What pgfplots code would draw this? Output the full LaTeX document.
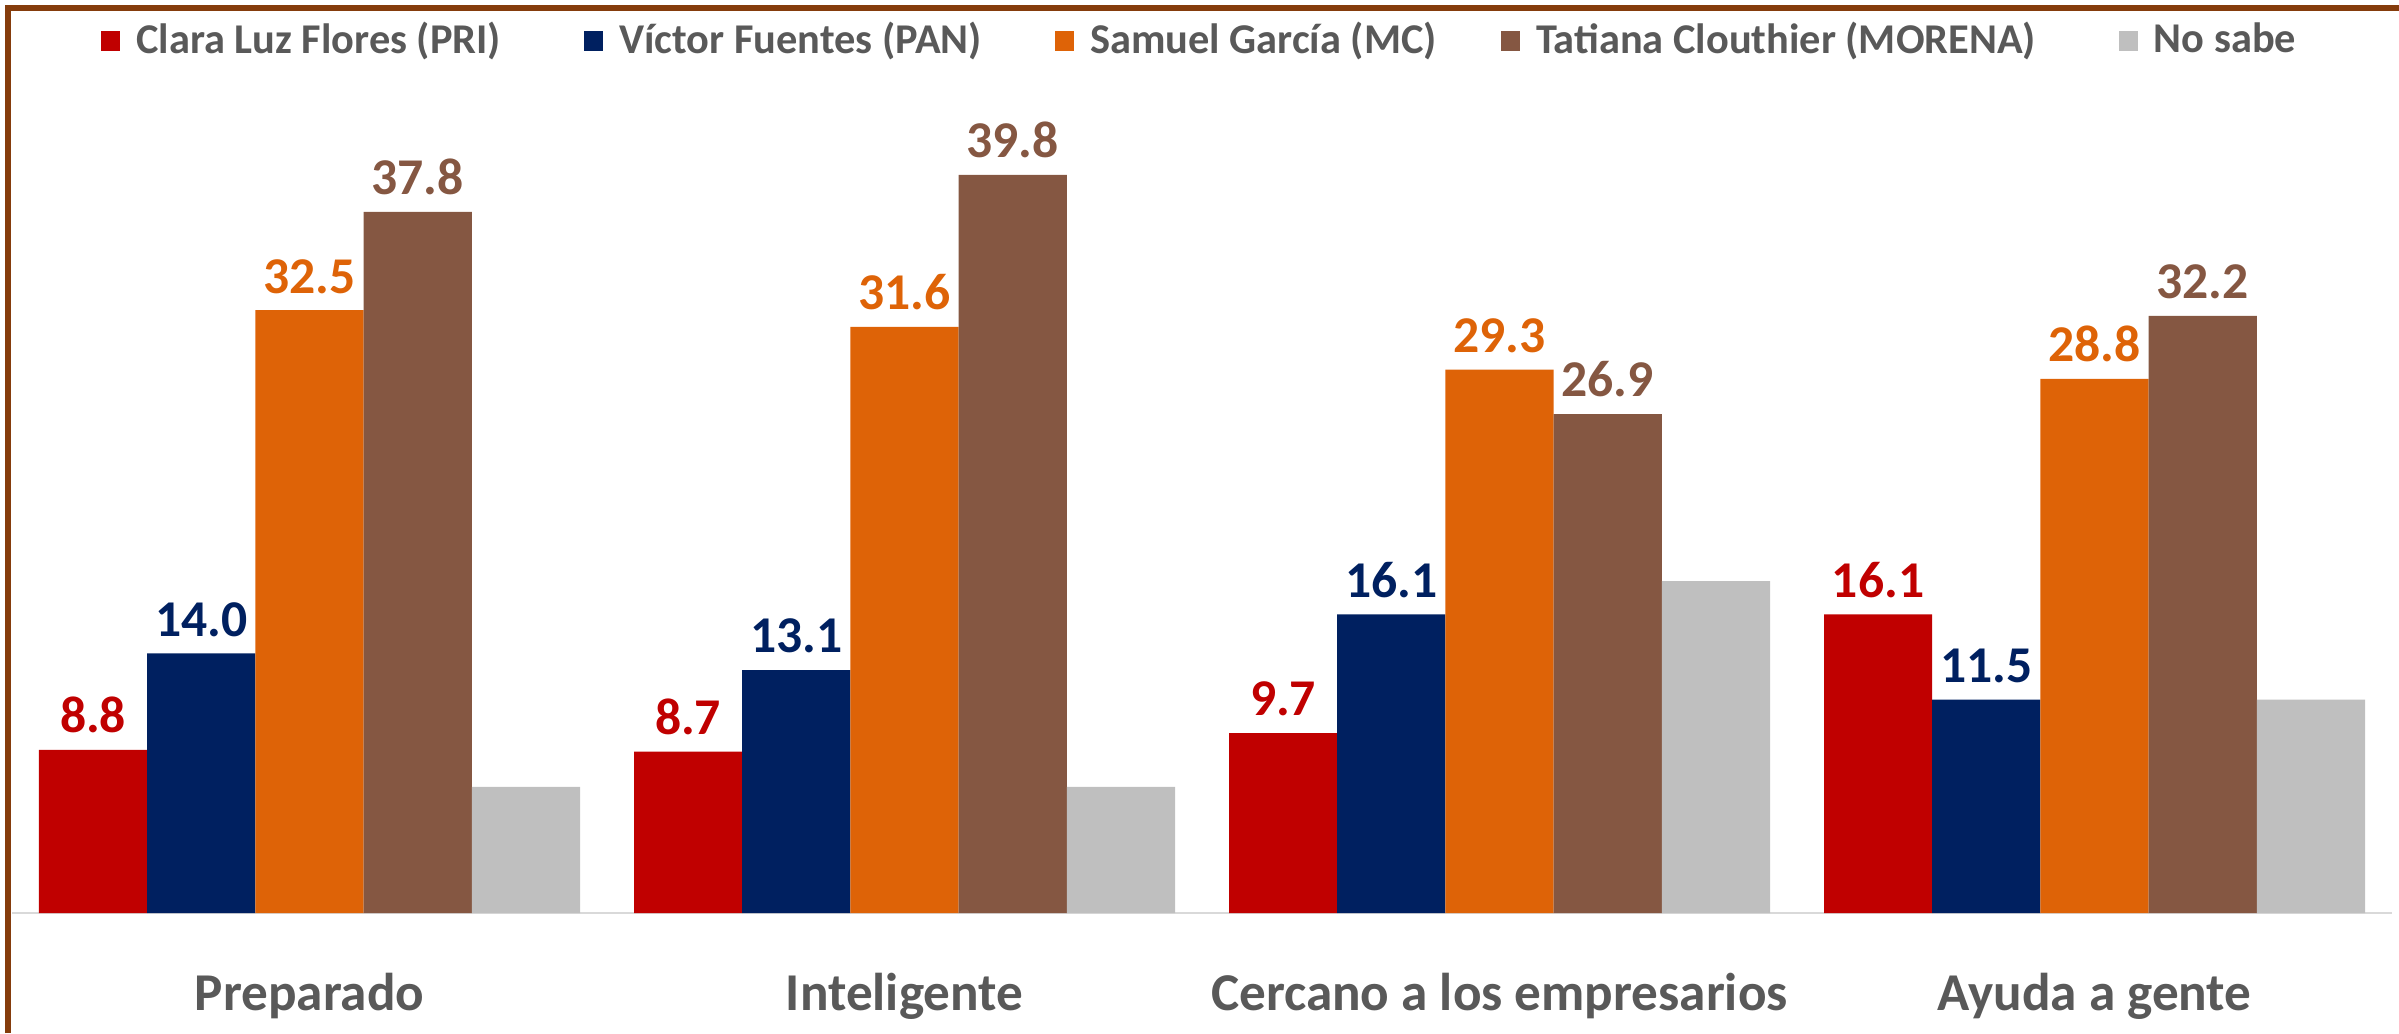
\documentclass[border=0pt]{standalone}
\usepackage{fontspec}
\setmainfont{Carlito}
\usepackage{pgfplots}
\pgfplotsset{compat=1.18}

\definecolor{cpri}{RGB}{192,0,0}
\definecolor{cpan}{RGB}{0,32,96}
\definecolor{cmc}{RGB}{222,99,7}
\definecolor{cmor}{RGB}{133,87,66}
\definecolor{cns}{RGB}{191,191,191}
\definecolor{ctxt}{RGB}{89,89,89}
\definecolor{cframe}{RGB}{133,60,12}
\definecolor{cbase}{RGB}{217,217,217}

\pgfplotsset{
  sq legend/.style={legend image code/.code={\fill[##1] (0pt,-2.4pt) rectangle (4.8pt,2.4pt);}},
}

\begin{document}
\begin{tikzpicture}
\path[use as bounding box] (0,0) rectangle (599.75pt,258.25pt);
\begin{axis}[
  at={(3pt,30pt)}, anchor=south west,
  scale only axis, width=595pt, height=213.3pt,
  ybar=0pt, bar width=27.05pt,
  enlargelimits=false,
  xmin=-0.5, xmax=3.5, ymin=0, ymax=46,
  axis x line=bottom, axis y line=none,
  axis line style={-, draw=cbase, line width=0.5pt},
  xtick={0,1,2,3},
  xticklabels={Preparado, Inteligente, Cercano a los empresarios, Ayuda a gente},
  xtick style={draw=none},
  x tick label style={font=\fontsize{13.3}{15}\selectfont\bfseries, text=ctxt, anchor=base, yshift=-22.25pt},
  /pgf/number format/fixed, /pgf/number format/fixed zerofill,
  /pgf/number format/precision=1, /pgf/number format/assume math mode=true,
  every node near coord/.append style={font=\fontsize{12.9}{14}\selectfont\bfseries, anchor=south, inner sep=0pt, yshift=4pt},
  legend columns=5,
  legend cell align=left,
  legend style={at={(0.0374,1.022)}, anchor=west, draw=none, fill=none,
    inner sep=0pt, outer sep=0pt, nodes={inner sep=0pt},
    font=\fontsize{10.6}{12}\selectfont\bfseries, text=ctxt,
    /tikz/column 1/.style={column sep=4pt},
    /tikz/column 2/.style={column sep=20.75pt},
    /tikz/column 3/.style={column sep=4pt},
    /tikz/column 4/.style={column sep=18.3pt},
    /tikz/column 5/.style={column sep=4pt},
    /tikz/column 6/.style={column sep=16pt},
    /tikz/column 7/.style={column sep=4pt},
    /tikz/column 8/.style={column sep=20.7pt},
    /tikz/column 9/.style={column sep=4pt}},
]
\addplot[fill=cpri, draw=none, sq legend, nodes near coords, every node near coord/.append style={text=cpri}]
  coordinates {(0,8.8) (1,8.7) (2,9.7) (3,16.1)};
\addplot[fill=cpan, draw=none, sq legend, nodes near coords, every node near coord/.append style={text=cpan}]
  coordinates {(0,14.0) (1,13.1) (2,16.1) (3,11.5)};
\addplot[fill=cmc, draw=none, sq legend, nodes near coords, every node near coord/.append style={text=cmc}]
  coordinates {(0,32.5) (1,31.6) (2,29.3) (3,28.8)};
\addplot[fill=cmor, draw=none, sq legend, nodes near coords, every node near coord/.append style={text=cmor}]
  coordinates {(0,37.8) (1,39.8) (2,26.9) (3,32.2)};
\addplot[fill=cns, draw=none, sq legend]
  coordinates {(0,6.8) (1,6.8) (2,17.9) (3,11.5)};
\legend{Clara Luz Flores (PRI), Víctor Fuentes (PAN), Samuel García (MC), Tatiana Clouthier (MORENA), No sabe}
\end{axis}
\draw[cframe, line width=1.4pt, line join=miter] (2pt,0pt) -- (2pt,256.25pt) -- (599.75pt,256.25pt);
\end{tikzpicture}
\end{document}
